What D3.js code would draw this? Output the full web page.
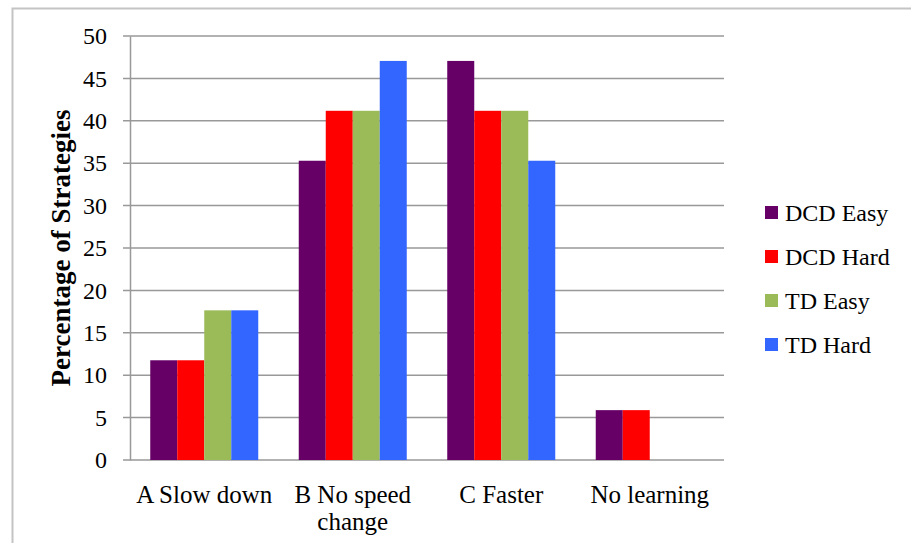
<!DOCTYPE html>
<html>
<head>
<meta charset="utf-8">
<script src="https://cdn.jsdelivr.net/npm/d3@7"></script>
<style>
  body { margin: 0; background: #fff; }
  svg { display: block; }
  text { font-family: "Liberation Serif", "DejaVu Serif", serif; fill: #000; }
</style>
</head>
<body>
<svg id="chart" width="911" height="543"></svg>
<script>
// Categories, series and tick values
const categories = ["A Slow down", "B No speed change", "C Faster", "No learning"];
const categoryLines = [["A Slow down"], ["B No speed", "change"], ["C Faster"], ["No learning"]];
const seriesNames = ["DCD Easy", "DCD Hard", "TD Easy", "TD Hard"];
const seriesColors = ["#660066", "#ff0000", "#9bbb59", "#3366ff"];
const dcdEasy = [11.76, 35.29, 47.06, 5.88];
const dcdHard = [11.76, 41.18, 41.18, 5.88];
const tdEasy  = [17.65, 41.18, 41.18, 0];
const tdHard  = [17.65, 47.06, 35.29, 0];
const yTicks = [0, 5, 10, 15, 20, 25, 30, 35, 40, 45, 50];

const seriesValues = [dcdEasy, dcdHard, tdEasy, tdHard];

const svg = d3.select("#chart");

// outer frame
svg.append("rect")
  .attr("x", 12.5).attr("y", 8.5)
  .attr("width", 1000).attr("height", 1000)
  .attr("fill", "none").attr("stroke", "#c4c4c4").attr("stroke-width", 2);

const plot = { left: 130, right: 724, top: 36, bottom: 460 };

const x0 = d3.scaleBand().domain(categories).range([plot.left, plot.right]).paddingInner(0).paddingOuter(0);
const x1 = d3.scaleBand().domain(seriesNames).range([0, x0.bandwidth()]).paddingInner(0).paddingOuter(0.75);
const y = d3.scaleLinear().domain([0, 50]).range([plot.bottom, plot.top]);

// gridlines
svg.append("g").selectAll("line").data(yTicks).join("line")
  .attr("x1", plot.left - 7).attr("x2", plot.right)
  .attr("y1", d => y(d)).attr("y2", d => y(d))
  .attr("stroke", "#999").attr("stroke-width", 1.5);

// bars
const groups = svg.append("g").selectAll("g").data(categories).join("g")
  .attr("transform", c => `translate(${x0(c)},0)`);
groups.selectAll("rect")
  .data((c, i) => seriesNames.map((s, j) => ({ s, j, v: seriesValues[j][i] })))
  .join("rect")
  .attr("x", d => x1(d.s))
  .attr("width", x1.bandwidth())
  .attr("y", d => y(d.v))
  .attr("height", d => y(0) - y(d.v))
  .attr("fill", d => seriesColors[d.j]);

// y axis
const yAxis = d3.axisLeft(y).tickValues(yTicks).tickSize(0).tickPadding(23);
const ya = svg.append("g").attr("transform", `translate(${plot.left},0)`).call(yAxis);
ya.select(".domain").attr("stroke", "#999").attr("stroke-width", 1.5);
ya.selectAll("text").attr("font-size", 24).attr("font-family", "Liberation Serif, serif").attr("fill", "#000");

// category labels
const cl = svg.append("g").selectAll("text").data(categories).join("text")
  .attr("x", c => x0(c) + x0.bandwidth() / 2)
  .attr("y", 503)
  .attr("text-anchor", "middle")
  .attr("font-size", 25);
cl.selectAll("tspan").data((c, i) => categoryLines[i]).join("tspan")
  .attr("x", function () { return d3.select(this.parentNode).attr("x"); })
  .attr("dy", (d, i) => i === 0 ? 0 : 27)
  .text(d => d);

// y axis title
svg.append("text")
  .attr("transform", `translate(70,${(plot.top + plot.bottom) / 2}) rotate(-90)`)
  .attr("text-anchor", "middle")
  .attr("font-size", 27)
  .attr("font-weight", "bold")
  .text("Percentage of Strategies");

// legend
const legend = svg.append("g").selectAll("g").data(seriesNames).join("g")
  .attr("transform", (d, i) => `translate(765,${213 + i * 44})`);
legend.append("rect").attr("x", 0).attr("y", -7).attr("width", 13).attr("height", 13)
  .attr("fill", (d, i) => seriesColors[i]);
legend.append("text").attr("x", 20).attr("y", 8).attr("font-size", 24).text(d => d);
</script>
</body>
</html>
